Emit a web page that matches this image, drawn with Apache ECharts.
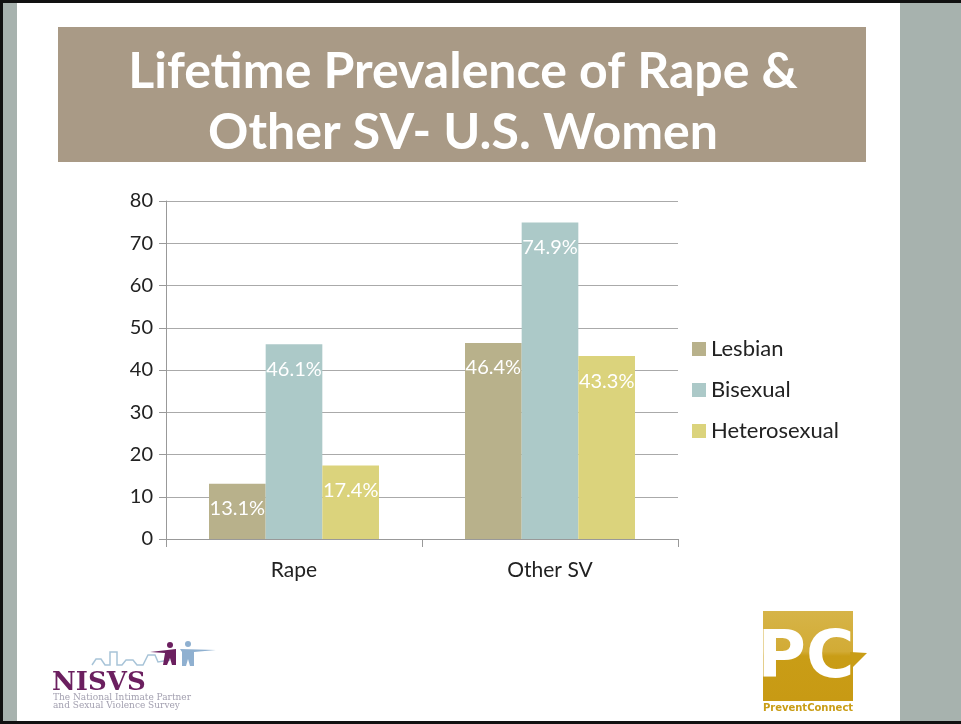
<!DOCTYPE html>
<html lang="en">

<head>
    <meta charset="UTF-8">
    <title>Lifetime Prevalence of Rape & Other SV</title>
    <script src="https://cdn.jsdelivr.net/npm/echarts@6.0.0/dist/echarts.min.js"></script>
    <style>
        html, body { margin: 0; padding: 0; background: #fff; }
        #main { width: 961px; height: 724px; }
    </style>
</head>

<body>
    <div id="main"></div>
    <script>
        var categories = ['Rape', 'Other SV'];
        var lesbian = [13.1, 46.4];
        var bisexual = [46.1, 74.9];
        var heterosexual = [17.4, 43.3];
        var seriesNames = ['Lesbian', 'Bisexual', 'Heterosexual'];
        var colors = ['#b8b18b', '#acc9c8', '#dbd37c'];

        var chartDom = document.getElementById('main');
        var myChart = echarts.init(chartDom);
        var option;

        function barSeries(name, data, color) {
            return {
                name: name,
                type: 'bar',
                data: data,
                barGap: '0%',
                barCategoryGap: '33.6%',
                itemStyle: { color: color },
                label: {
                    show: true,
                    position: 'insideTop',
                    distance: 15,
                    color: '#fff',
                    fontFamily: 'Lato',
                    fontSize: 20,
                    formatter: function (p) { return p.value.toFixed(1) + '%'; }
                }
            };
        }

        option = {
            animation: false,
            textStyle: { fontFamily: 'Lato' },
            graphic: [
                // slide frame
                { type: 'rect', shape: { x: 0, y: 0, width: 961, height: 724 }, style: { fill: '#111' }, z: -10 },
                { type: 'rect', shape: { x: 3, y: 3, width: 958, height: 718 }, style: { fill: '#a7b2ae' }, z: -9 },
                { type: 'rect', shape: { x: 17, y: 3, width: 883, height: 718 }, style: { fill: '#fff' }, z: -8 },
                // title box
                { type: 'rect', shape: { x: 58, y: 27, width: 808, height: 135 }, style: { fill: '#a99a86' }, z: -7 },
                {
                    type: 'text', x: 463, y: 72, z: 5,
                    style: {
                        text: 'Lifetime Prevalence of Rape &', fill: '#fff', font: 'bold 50px Lato',
                        align: 'center', verticalAlign: 'middle'
                    }
                },
                {
                    type: 'text', x: 463, y: 133, z: 5,
                    style: {
                        text: 'Other SV- U.S. Women', fill: '#fff', font: 'bold 50px Lato',
                        align: 'center', verticalAlign: 'middle'
                    }
                },
                // NISVS logo (rough)
                {
                    type: 'polyline', z: 5,
                    shape: { points: [[92, 665], [96, 659], [101, 659], [105, 665], [110, 665], [110, 652], [117, 652], [117, 665], [122, 665], [126, 660], [133, 660], [137, 665], [143, 665], [148, 655], [155, 655], [158, 662], [170, 660]] },
                    style: { stroke: '#a8c4d8', lineWidth: 1.5, fill: null }
                },
                { type: 'circle', shape: { cx: 170, cy: 645, r: 3 }, style: { fill: '#6b1f5f' }, z: 5 },
                { type: 'polygon', shape: { points: [[150, 652], [176, 649], [176, 665], [172, 665], [170, 658], [167, 665], [163, 665], [165, 653]] }, style: { fill: '#6b1f5f' }, z: 5 },
                { type: 'circle', shape: { cx: 188, cy: 644, r: 3 }, style: { fill: '#8fb0d0' }, z: 5 },
                { type: 'polygon', shape: { points: [[180, 649], [216, 650], [194, 652], [194, 666], [190, 666], [188, 659], [186, 666], [182, 666], [182, 652]] }, style: { fill: '#8fb0d0' }, z: 5 },
                {
                    type: 'text', x: 52, y: 683, z: 5,
                    style: { text: 'NISVS', fill: '#6b1f5f', font: 'bold 26px "DejaVu Serif"', verticalAlign: 'middle' }
                },
                {
                    type: 'text', x: 53, y: 698, z: 5,
                    style: { text: 'The National Intimate Partner', fill: '#a3a0b0', font: '9px "DejaVu Serif"', verticalAlign: 'middle' }
                },
                {
                    type: 'text', x: 53, y: 706, z: 5,
                    style: { text: 'and Sexual Violence Survey', fill: '#a3a0b0', font: '9px "DejaVu Serif"', verticalAlign: 'middle' }
                },
                // PreventConnect logo (rough)
                {
                    type: 'rect', z: 5,
                    shape: { x: 763, y: 611, width: 90, height: 90 },
                    style: {
                        fill: new echarts.graphic.LinearGradient(0, 0, 0, 1, [
                            { offset: 0, color: '#d6b448' }, { offset: 0.45, color: '#d2ab35' },
                            { offset: 0.5, color: '#c99d16' }, { offset: 1, color: '#c89a14' }
                        ])
                    }
                },
                { type: 'polygon', shape: { points: [[850, 652], [867, 653], [852, 668]] }, style: { fill: '#c99d16' }, z: 5 },
                {
                    type: 'text', x: 806, y: 660, z: 6,
                    style: { text: 'PC', fill: '#fff', font: 'bold 66px "DejaVu Sans"', align: 'center', verticalAlign: 'middle' }
                },
                {
                    type: 'text', x: 808, y: 708, z: 5,
                    style: { text: 'PreventConnect', fill: '#c99d16', font: 'bold 10px "DejaVu Sans"', align: 'center', verticalAlign: 'middle' }
                }
            ],
            grid: {
                left: 166,
                right: 283,
                top: 201,
                bottom: 185
            },
            legend: {
                orient: 'vertical',
                left: 687,
                top: 333,
                itemWidth: 14,
                itemHeight: 14,
                itemGap: 19,
                icon: 'rect',
                data: seriesNames,
                textStyle: { fontFamily: 'Lato', fontSize: 22, lineHeight: 20, color: '#222' }
            },
            xAxis: {
                type: 'category',
                data: categories,
                axisLine: { lineStyle: { color: '#999' } },
                axisTick: { show: true, length: 8, lineStyle: { color: '#999' } },
                axisLabel: { color: '#222', fontSize: 21, margin: 21, fontFamily: 'Lato' }
            },
            yAxis: {
                type: 'value',
                min: 0,
                max: 80,
                interval: 10,
                axisLine: { show: true, lineStyle: { color: '#999' } },
                axisTick: { show: true, inside: false, length: 7, lineStyle: { color: '#999' } },
                splitLine: { lineStyle: { color: '#aaa' } },
                axisLabel: { color: '#222', fontSize: 20, margin: 13, fontFamily: 'Lato' }
            },
            series: [
                barSeries(seriesNames[0], lesbian, colors[0]),
                barSeries(seriesNames[1], bisexual, colors[1]),
                barSeries(seriesNames[2], heterosexual, colors[2])
            ]
        };

        option && myChart.setOption(option);
        window.addEventListener('resize', function () {
            myChart.resize();
        });
    </script>
</body>

</html>
